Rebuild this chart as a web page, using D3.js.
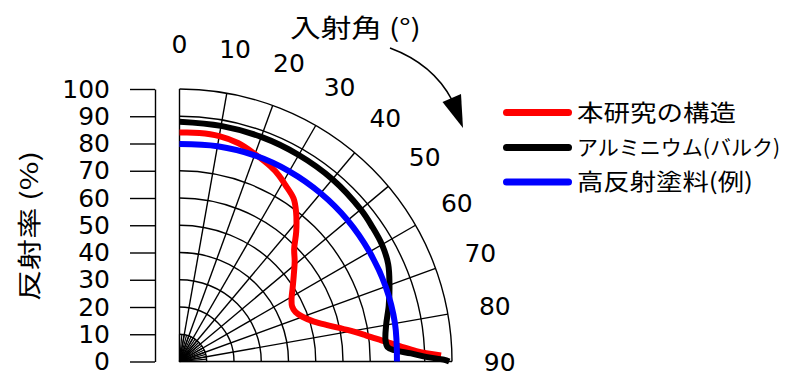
<!DOCTYPE html>
<html>
<head>
<meta charset="utf-8">
<script src="https://cdn.jsdelivr.net/npm/d3@7"></script>
<style>
  body { margin: 0; background: #fff; }
  svg { display: block; }
  .num { font-family: 'DejaVu Sans', Verdana, sans-serif; font-size: 25px; fill: #000; }
  .jp { font-family: 'Noto Sans CJK JP', sans-serif; fill: #000; }
</style>
</head>
<body>
<svg width="787" height="376"></svg>
<script>
// reflectance (%) at each incidence angle (deg)
const seriesNames = ['本研究の構造', 'アルミニウム(バルク)', '高反射塗料(例)'];
const seriesColors = ['#ff0000', '#000000', '#0000ff'];

const redData = [
  [0, 84], [5, 84.2], [10, 84], [15, 83], [20, 81], [25, 79], [28, 77.5], [31, 75.5],
  [35, 73], [38, 69.5], [42, 64], [45.5, 59], [49, 56], [53, 52.5], [57, 49.5], [61, 47],
  [64, 46], [67, 46.3], [70, 48], [73.5, 51.5], [76.5, 56.5], [79.5, 63], [82, 69],
  [84, 74.5], [86, 81], [87.5, 87], [88.7, 96]
];
const blackData = [
  [0, 88], [10, 87.8], [20, 87.7], [30, 87.5], [40, 87.3], [50, 86.8], [55, 86.3],
  [60, 85.8], [65, 84.5], [70, 82], [75, 79.5], [80, 77], [84, 76], [86, 76.5],
  [87, 79], [88, 85], [89, 91], [89.6, 97], [90, 99]
];
const blueData = [
  [0, 79.8], [10, 80.2], [20, 80.5], [30, 80.6], [40, 80.6], [50, 80.6], [60, 80.5],
  [70, 80.5], [80, 80.3], [90, 79.8]
];

const angleTicks = [0, 10, 20, 30, 40, 50, 60, 70, 80, 90];
const radiusTicks = [0, 10, 20, 30, 40, 50, 60, 70, 80, 90, 100];
const innerAngles = d3.range(0, 91, 5);

const angleTitle = '入射角 (°)';
const radiusTitle = '反射率 (%)';

function whenLoaded(){

    const svg = d3.select('svg');

    const cx = 179.5;
    const cy = 361.5;
    const R = 272.5;
    const rad = a => a * Math.PI / 180;

    const rScale = d3.scaleLinear().domain([0, 100]).range([0, R]);
    const yScale = d3.scaleLinear().domain([0, 100]).range([cy, cy - R]);

    const g = svg.append('g')
        .attr('transform', `translate(${cx},${cy})`);

    // grid circles
    const arc = d3.arc().startAngle(0).endAngle(Math.PI / 2);
    g.selectAll('.ring').data(radiusTicks.slice(1))
        .enter().append('path')
        .attr('class', 'ring')
        .attr('d', d => arc({innerRadius: rScale(d), outerRadius: rScale(d)}))
        .attr('fill', 'none')
        .attr('stroke', '#000')
        .attr('stroke-width', 1.4);

    // spokes every 10 deg, plus dense spokes near the centre
    g.selectAll('.spoke').data(angleTicks)
        .enter().append('line')
        .attr('x1', 0).attr('y1', 0)
        .attr('x2', d => rScale(100) * Math.sin(rad(d)))
        .attr('y2', d => -rScale(100) * Math.cos(rad(d)))
        .attr('stroke', '#000')
        .attr('stroke-width', 1.4);

    g.selectAll('.spoke-in').data(innerAngles)
        .enter().append('line')
        .attr('x1', 0).attr('y1', 0)
        .attr('x2', d => rScale(10) * Math.sin(rad(d)))
        .attr('y2', d => -rScale(10) * Math.cos(rad(d)))
        .attr('stroke', '#000')
        .attr('stroke-width', 1.2);

    // angle labels
    g.selectAll('.alabel').data(angleTicks)
        .enter().append('text')
        .attr('class', 'num')
        .attr('x', d => rScale(117.5) * Math.sin(rad(d)))
        .attr('y', d => -rScale(116.5) * Math.cos(rad(d)))
        .attr('text-anchor', 'middle')
        .attr('dy', '0.36em')
        .text(d => d);

    // curves
    const line = d3.lineRadial()
        .angle(d => rad(d[0]))
        .radius(d => rScale(d[1]))
        .curve(d3.curveCatmullRom);

    [redData, blackData, blueData].forEach((data, i) => {
        g.append('path')
            .attr('d', line(data))
            .attr('fill', 'none')
            .attr('stroke', seriesColors[i])
            .attr('stroke-width', 6)
            .attr('stroke-linejoin', 'round')
            .attr('stroke-linecap', 'butt');
    });

    // separate radius axis on the left
    const yAxis = d3.axisLeft(yScale)
        .tickValues(radiusTicks)
        .tickSize(25)
        .tickSizeOuter(0)
        .tickPadding(20);

    const yAxisG = svg.append('g')
        .attr('transform', 'translate(155,0)')
        .call(yAxis);

    yAxisG.select('.domain').attr('stroke-width', 1.4);
    yAxisG.selectAll('.tick line').attr('stroke-width', 1.4);
    yAxisG.selectAll('.tick text')
        .attr('class', 'num')
        .attr('font-family', null)
        .attr('font-size', null);
    yAxisG.attr('font-family', null).attr('font-size', null);

    svg.append('text')
        .attr('class', 'jp')
        .attr('transform', 'translate(38,226) rotate(-90)')
        .attr('text-anchor', 'middle')
        .attr('font-size', 24)
        .attr('textLength', 150)
        .attr('lengthAdjust', 'spacingAndGlyphs')
        .text(radiusTitle);

    // angle title and arrow
    svg.append('text')
        .attr('class', 'jp')
        .attr('x', 355.5)
        .attr('y', 37)
        .attr('text-anchor', 'middle')
        .attr('font-size', 25)
        .attr('textLength', 131)
        .attr('lengthAdjust', 'spacingAndGlyphs')
        .text(angleTitle);

    svg.append('path')
        .attr('d', 'M390,48 Q433,64 452,100')
        .attr('fill', 'none')
        .attr('stroke', '#000')
        .attr('stroke-width', 1.6);

    svg.append('path')
        .attr('d', 'M463,128 L442.5,102 L461,94 Z')
        .attr('fill', '#000');

    // legend
    const legendY = [112.5, 147.5, 182];
    const legendSize = [23, 21, 23];
    const legendLen = [159, null, 176];
    const legend = svg.append('g');

    legend.selectAll('line').data(seriesNames)
        .enter().append('line')
        .attr('x1', 506.5).attr('x2', 568.5)
        .attr('y1', (d, i) => legendY[i])
        .attr('y2', (d, i) => legendY[i])
        .attr('stroke', (d, i) => seriesColors[i])
        .attr('stroke-width', 7)
        .attr('stroke-linecap', 'round');

    legend.selectAll('text').data(seriesNames)
        .enter().append('text')
        .attr('class', 'jp')
        .attr('x', 577)
        .attr('y', (d, i) => legendY[i])
        .attr('dy', '0.36em')
        .attr('font-size', (d, i) => legendSize[i])
        .attr('textLength', (d, i) => legendLen[i])
        .attr('lengthAdjust', (d, i) => legendLen[i] ? 'spacingAndGlyphs' : null)
        .text(d => d);
}

window.onload = whenLoaded;
</script>
</body>
</html>
